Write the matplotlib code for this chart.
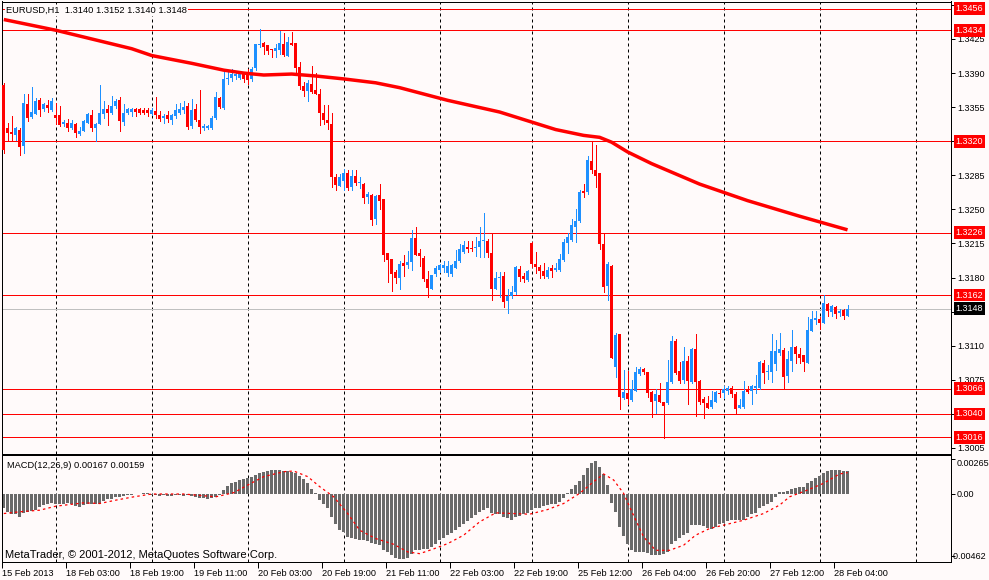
import matplotlib
matplotlib.use('Agg')
import matplotlib.pyplot as plt
import matplotlib.transforms as mtransforms
import numpy as np

plt.rcParams['font.family'] = ['Liberation Sans', 'DejaVu Sans']

# ---------------- data (prices in pips, 1 pip = 0.0001) ----------------
opens = [13378,13334,13329,13326,13332,13315,13358,13345,13348,13362,
         13353,13357,13352,13347,13347,13338,13339,13334,13338,13327,
         13331,13339,13347,13334,13338,13348,13353,13349,13356,13362,
         13340,13349,13350,13353,13353,13352,13352,13348,13351,13347,
         13344,13347,13342,13346,13349,13352,13356,13336,13353,13342,
         13334,13334,13334,13344,13364,13354,13384,13385,13387,13385,
         13389,13388,13384,13395,13419,13421,13419,13415,13413,13414,
         13420,13408,13421,13421,13396,13377,13372,13379,13373,13369,
         13349,13342,13338,13283,13274,13279,13287,13273,13284,13277,
         13276,13263,13265,13240,13265,13261,13205,13199,13186,13180,
         13195,13193,13196,13221,13205,13200,13179,13168,13184,13188,
         13190,13185,13184,13190,13197,13206,13211,13210,13210,13211,
         13218,13218,13205,13168,13180,13182,13156,13161,13165,13189,
         13182,13177,13215,13194,13191,13187,13181,13190,13188,13188,
         13198,13215,13219,13232,13238,13269,13268,13300,13290,13287,
         13214,13171,13192,13088,13122,13056,13061,13054,13064,13081,
         13086,13083,13062,13053,13059,13052,13051,13073,13115,13084,
         13075,13094,13073,13107,13074,13055,13051,13047,13052,13061,
         13061,13063,13067,13060,13046,13047,13065,13063,13067,13067,
         13092,13083,13083,13091,13103,13106,13079,13094,13109,13101,
         13100,13092,13125,13136,13137,13133,13153,13145,13150,13144,
         13147,13140]
highs = [13380,13339,13346,13335,13334,13368,13368,13376,13364,13364,
         13359,13362,13364,13359,13356,13342,13343,13342,13339,13335,
         13342,13349,13352,13339,13378,13361,13357,13366,13363,13365,
         13358,13354,13354,13354,13354,13354,13354,13354,13365,13351,
         13348,13351,13348,13358,13359,13361,13359,13363,13358,13373,
         13338,13337,13346,13371,13365,13393,13393,13394,13392,13392,
         13391,13394,13396,13420,13435,13422,13419,13415,13420,13433,
         13431,13427,13432,13421,13401,13381,13383,13397,13390,13374,
         13357,13357,13349,13286,13286,13291,13290,13290,13290,13283,
         13277,13268,13266,13265,13276,13261,13205,13199,13188,13197,
         13203,13207,13229,13232,13209,13202,13187,13183,13192,13194,
         13197,13197,13194,13208,13214,13218,13218,13218,13222,13232,
         13246,13220,13225,13186,13186,13186,13168,13171,13192,13192,
         13185,13188,13217,13206,13193,13195,13191,13193,13195,13204,
         13220,13226,13240,13250,13270,13276,13305,13319,13316,13287,
         13226,13196,13193,13123,13122,13085,13084,13075,13088,13088,
         13087,13083,13064,13066,13072,13052,13095,13120,13117,13093,
         13109,13099,13108,13122,13075,13057,13058,13063,13064,13066,
         13069,13069,13069,13062,13055,13074,13069,13070,13080,13094,
         13095,13090,13122,13116,13123,13108,13105,13126,13110,13108,
         13100,13139,13146,13146,13139,13162,13154,13152,13151,13148,
         13148,13152]
lows = [13308,13321,13321,13321,13306,13308,13341,13344,13348,13346,
        13351,13350,13351,13338,13336,13336,13331,13333,13324,13326,
        13330,13339,13331,13320,13338,13344,13337,13348,13354,13331,
        13337,13348,13346,13346,13348,13348,13346,13347,13344,13341,
        13339,13340,13338,13344,13348,13349,13333,13334,13341,13328,
        13332,13333,13333,13343,13354,13353,13379,13382,13384,13384,
        13381,13379,13382,13393,13417,13410,13410,13407,13406,13410,
        13408,13408,13419,13390,13374,13366,13361,13370,13368,13337,
        13338,13333,13273,13270,13274,13270,13270,13270,13275,13272,
        13257,13257,13234,13235,13250,13197,13175,13166,13174,13168,
        13182,13190,13188,13203,13192,13176,13160,13168,13182,13186,
        13186,13182,13182,13190,13196,13205,13206,13207,13202,13201,
        13201,13201,13157,13168,13160,13150,13144,13159,13163,13176,
        13175,13176,13191,13185,13180,13180,13180,13181,13187,13187,
        13197,13205,13218,13216,13237,13263,13266,13287,13273,13209,
        13165,13157,13097,13078,13045,13055,13050,13053,13063,13080,
        13081,13057,13037,13041,13052,13015,13050,13072,13081,13072,
        13072,13050,13072,13038,13050,13036,13046,13046,13052,13057,
        13056,13060,13057,13040,13046,13046,13061,13050,13061,13066,
        13072,13076,13073,13085,13100,13066,13073,13084,13092,13092,
        13084,13092,13125,13132,13127,13133,13141,13140,13138,13141,
        13137,13140]
closes = [13311,13328,13327,13334,13314,13359,13344,13350,13361,13352,
          13358,13354,13361,13344,13337,13340,13334,13339,13328,13331,
          13341,13348,13334,13338,13349,13353,13349,13356,13361,13341,
          13349,13353,13353,13350,13349,13349,13349,13352,13347,13343,
          13346,13343,13347,13352,13353,13355,13335,13352,13342,13335,
          13336,13336,13344,13365,13355,13384,13385,13389,13389,13389,
          13384,13383,13394,13420,13420,13417,13413,13414,13416,13421,
          13409,13422,13419,13395,13377,13372,13380,13371,13369,13349,
          13342,13339,13283,13275,13283,13287,13272,13284,13277,13277,
          13262,13266,13239,13264,13259,13203,13198,13184,13180,13194,
          13192,13196,13221,13203,13202,13178,13169,13183,13190,13193,
          13193,13192,13193,13197,13209,13213,13209,13209,13211,13218,
          13219,13205,13168,13180,13181,13155,13161,13165,13191,13181,
          13178,13187,13194,13191,13187,13182,13188,13187,13190,13199,
          13217,13222,13234,13238,13268,13267,13301,13290,13284,13214,
          13170,13194,13097,13121,13057,13062,13055,13066,13083,13086,
          13083,13061,13052,13060,13052,13048,13073,13115,13082,13074,
          13094,13074,13107,13073,13052,13051,13046,13054,13062,13060,
          13066,13067,13060,13045,13049,13063,13062,13069,13069,13093,
          13082,13084,13105,13105,13107,13078,13096,13109,13101,13097,
          13093,13126,13137,13138,13133,13154,13146,13151,13143,13146,
          13141,13148]

# moving average (read points: bar index, pips)
ma_idx = [0, 13, 22, 32, 37, 47, 55, 60, 65, 72, 78, 85, 93, 99, 111, 124,
          138, 145, 149, 152, 156, 162, 174, 186, 199, 211]
ma_val = [13445, 13434, 13425, 13415, 13408, 13400, 13393, 13390, 13388, 13389,
          13387, 13384, 13380, 13375, 13362, 13350, 13332, 13326, 13324, 13319,
          13309, 13297, 13276, 13259, 13243, 13229]

# MACD histogram (units of 1e-5)
macd_hist = [-105,-130,-143,-143,-168,-138,-130,-123,-113,-93,
             -80,-68,-63,-68,-73,-68,-63,-73,-88,-93,
             -80,-73,-73,-73,-68,-48,-38,-33,-18,-18,
             -13,-8,-3,3,5,8,8,-1,-5,-10,
             -8,-10,-13,-8,-8,-13,-8,-13,-18,-25,
             -30,-38,-30,-23,-1,33,63,83,95,108,
             113,120,133,145,158,170,178,183,183,183,
             178,178,170,158,138,113,83,38,13,-43,
             -73,-105,-168,-223,-268,-280,-318,-323,-330,-338,
             -338,-348,-363,-368,-380,-413,-430,-455,-473,-480,
             -480,-473,-443,-418,-413,-408,-405,-393,-373,-343,
             -323,-305,-288,-268,-243,-223,-198,-180,-155,-130,
             -118,-98,-138,-148,-148,-168,-180,-188,-168,-163,
             -148,-138,-118,-105,-98,-88,-80,-73,-68,-55,
             -30,8,38,70,103,145,195,233,250,208,
             153,70,-63,-130,-243,-313,-373,-418,-430,-430,
             -430,-438,-455,-455,-455,-448,-430,-373,-348,-323,
             -305,-288,-230,-230,-230,-238,-248,-255,-243,-223,
             -213,-198,-193,-193,-193,-188,-168,-148,-138,-105,
             -88,-68,-55,-23,20,20,28,38,45,53,
             58,83,103,120,138,163,175,183,183,183,178,178]

# MACD signal line (read points: bar index, 1e-5)
sig_idx = [0, 4, 9, 13, 20, 24, 28, 32.5, 37, 45, 53, 57.5, 61, 65, 70, 72.5,
           76, 79, 82.5, 86, 89, 93, 97.5, 101, 104, 107, 111, 115, 119, 123,
           127.5, 131.5, 136, 140, 144, 147.5, 150, 152.5, 155, 156.5, 160,
           163, 166.5, 170, 173, 176.5, 180, 185, 190, 194, 196.5, 201, 205,
           209, 211]
sig_val = [-143, -130, -118, -88, -63, -68, -43, -18, 3, 3, -18, 13, 70, 133,
           170, 175, 133, 58, -18, -143, -268, -330, -373, -430, -443, -413,
           -368, -305, -205, -138, -143, -148, -113, -68, 8, 95, 153, 108, 8,
           -93, -318, -418, -418, -380, -305, -255, -230, -193, -143, -80, -18,
           33, 83, 153, 163]

level_lines = [1.3456, 1.3434, 1.3320, 1.3226, 1.3162, 1.3066, 1.3040, 1.3016]
current_price = 1.3148
price_ticks = [1.3460, 1.3425, 1.3390, 1.3355, 1.3320, 1.3285, 1.3250, 1.3215,
               1.3180, 1.3145, 1.3110, 1.3075, 1.3040, 1.3005]
hidden_price_ticks = [1.3320, 1.3145, 1.3040]   # covered by the level boxes
macd_ticks = [0.00265, 0.0, -0.00462]
macd_tick_labels = ['0.00265', '0.00', '-0.00462']
time_label_idx = [0, 16, 32, 48, 64, 80, 96, 112, 128, 144, 160, 176, 192, 208]
time_labels = ['15 Feb 2013', '18 Feb 03:00', '18 Feb 19:00', '19 Feb 11:00',
               '20 Feb 03:00', '20 Feb 19:00', '21 Feb 11:00', '22 Feb 03:00',
               '22 Feb 19:00', '25 Feb 12:00', '26 Feb 04:00', '26 Feb 20:00',
               '27 Feb 12:00', '28 Feb 04:00']
day_grid_idx = [13, 37, 61, 85, 109, 132, 156, 180, 204, 228]
title_text = 'EURUSD,H1  1.3140 1.3152 1.3140 1.3148'
macd_text = 'MACD(12,26,9) 0.00167 0.00159'
copyright_text = 'MetaTrader, \u00a9 2001-2012, MetaQuotes Software Corp.'

# ---------------- styling ----------------
BG = '#fffafa'
BLUE = '#1e90ff'
RED = '#ff0000'
GRAY = '#6a6a6a'
PX = 0.72  # one pixel in points
FS = 6.5

W, H = 989, 580
fig = plt.figure(figsize=(W / 100, H / 100), dpi=100, facecolor=BG)


def rect(l, t, r, b):
    return [l / W, 1 - b / H, (r - l) / W, (b - t) / H]


ax = fig.add_axes(rect(2, 1.5, 951, 453.5))
ax2 = fig.add_axes(rect(2, 455, 951, 562), sharex=ax)

for a in (ax, ax2):
    a.set_facecolor(BG)
    for s in a.spines.values():
        s.set_color('black')
        s.set_linewidth(PX)
    for g in day_grid_idx:
        a.axvline(g, color='black', lw=PX, ls=(0, (3, 3)), zorder=0.5)

# x scale: bar k at pixel 3.5 + 4k
ax.set_xlim((2 - 3.5) / 4, (951 - 3.5) / 4)

# ---------- main panel ----------
o = np.array(opens) / 1e4
h = np.array(highs) / 1e4
l = np.array(lows) / 1e4
c = np.array(closes) / 1e4
idx = np.arange(len(o))
cols = np.where(c >= o, BLUE, RED)

for lv in level_lines:
    ax.axhline(lv, color=RED, lw=PX, zorder=1)
ax.axhline(current_price, color='#c0c0c0', lw=PX, zorder=1)

ax.vlines(idx, l, h, colors=cols, lw=PX, zorder=3, antialiased=False)
body_lo = np.minimum(o, c)
body_h = np.maximum(np.abs(c - o), 0.00009)
ax.bar(idx, body_h, bottom=body_lo, width=0.75, color=cols, lw=0, zorder=3.5,
       antialiased=False)

ax.plot(ma_idx, np.array(ma_val) / 1e4, color=RED, lw=2.5, zorder=4,
        solid_capstyle='butt', solid_joinstyle='miter')

ax.set_ylim(1.29993, 1.34635)
ax.yaxis.tick_right()
ax.set_yticks(price_ticks)
ax.set_yticklabels(['' if any(abs(t - x) < 1e-6 for x in hidden_price_ticks)
                    else '%.4f' % t for t in price_ticks])
ax.tick_params(axis='y', direction='out', length=3, width=PX, pad=1.5,
               labelsize=FS, colors='black')
ax.tick_params(axis='x', bottom=False, labelbottom=False)

trans = mtransforms.blended_transform_factory(ax.transAxes, ax.transData)
xbox = (955.5 - 2) / 949
for lv in level_lines:
    ax.text(xbox, lv, '%.4f' % lv, transform=trans, ha='left', va='center',
            fontsize=FS, color='white', clip_on=False, zorder=10,
            bbox=dict(boxstyle='square,pad=0.2', fc=RED, ec='none'))
ax.text(xbox, current_price, '%.4f' % current_price, transform=trans,
        ha='left', va='center', fontsize=FS, color='white', clip_on=False,
        zorder=10, bbox=dict(boxstyle='square,pad=0.2', fc='black', ec='none'))

fig.text(6 / W, 1 - 10.5 / H, title_text, ha='left', va='center', fontsize=6.7,
         color='black', zorder=20,
         bbox=dict(boxstyle='square,pad=0.1', fc=BG, ec='none'))

# ---------- MACD panel ----------
hist = np.array(macd_hist) / 1e5
ax2.bar(idx, hist, width=0.75, color=GRAY, lw=0, zorder=2, antialiased=False)
ax2.plot(sig_idx, np.array(sig_val) / 1e5, color=RED, lw=0.9,
         ls=(0, (2, 2.5)), zorder=3)
ax2.set_ylim(-0.005055, 0.002948)
ax2.yaxis.tick_right()
ax2.set_yticks(macd_ticks)
ax2.set_yticklabels([])
ax2.tick_params(axis='y', direction='out', length=3, width=PX,
                colors='black')
# MACD scale labels (MetaTrader places the extreme values just inside)
macd_label_px = [(957, 463), (957, 494.5), (986, 556.5)]
for (px, py), txt in zip(macd_label_px, macd_tick_labels):
    fig.text(px / W, 1 - py / H, txt, ha='right' if txt.startswith('-') else 'left',
             va='center', fontsize=FS, color='black', zorder=20)

ax2.set_xticks([k - 0.45 for k in time_label_idx])
ax2.set_xticklabels(time_labels)
ax2.tick_params(axis='x', direction='out', length=4, width=PX, pad=1,
                labelsize=6.6, colors='black')
for lbl in ax2.get_xticklabels():
    lbl.set_ha('left')

fig.text(7 / W, 1 - 466 / H, macd_text, ha='left', va='center', fontsize=6.7,
         color='black', zorder=20)
fig.text(5 / W, 1 - 555.5 / H, copyright_text, ha='left', va='center',
         fontsize=8.0, color='black', zorder=20)

fig.savefig('out.png', dpi=100, facecolor=BG)
